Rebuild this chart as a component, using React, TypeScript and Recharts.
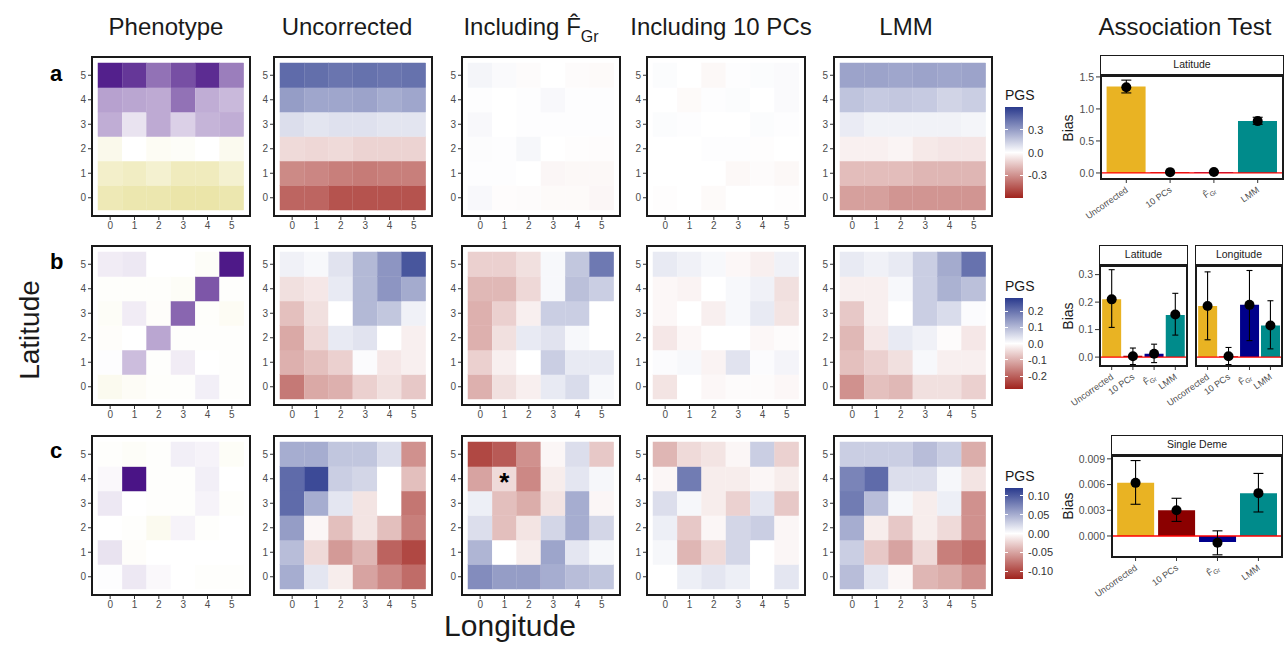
import React from "react";
import {
  BarChart,
  Bar,
  Cell,
  XAxis,
  YAxis,
  ComposedChart,
  Scatter,
  ErrorBar,
  ReferenceLine,
} from "recharts";

const FONT = '"Liberation Sans", Arial, Helvetica, sans-serif';
const GREY = "#4D4D4D";

const lonTicks = ["0", "1", "2", "3", "4", "5"];
const latTicks = [0, 1, 2, 3, 4, 5];

// Heatmap grids: first row is latitude 5, last row latitude 0; columns are longitude 0..5
const phenoA = [
  [0.95, 0.85, 0.6, 0.75, 0.9, 0.55],
  [0.4, 0.38, 0.36, 0.6, 0.35, 0.3],
  [0.35, 0.12, 0.36, 0.2, 0.32, 0.35],
  [-0.15, 0.0, -0.08, -0.05, 0.0, -0.12],
  [-0.4, -0.45, -0.35, -0.5, -0.5, -0.35],
  [-0.55, -0.6, -0.6, -0.65, -0.65, -0.6],
];
const uncorrA = [
  [0.45, 0.44, 0.42, 0.43, 0.42, 0.43],
  [0.3, 0.27, 0.27, 0.28, 0.25, 0.27],
  [0.1, 0.08, 0.09, 0.09, 0.08, 0.08],
  [-0.1, -0.11, -0.1, -0.12, -0.12, -0.12],
  [-0.32, -0.33, -0.35, -0.36, -0.35, -0.35],
  [-0.42, -0.42, -0.47, -0.47, -0.47, -0.47],
];
const fgrA = [
  [0.03, 0.015, -0.01, 0, -0.01, -0.015],
  [0.005, 0, 0.005, 0.02, 0.005, 0.005],
  [0.02, 0, 0.005, 0.005, 0.005, 0.005],
  [0.008, 0.005, 0.025, 0, -0.005, -0.008],
  [0.005, 0.005, 0, -0.025, -0.02, -0.02],
  [0.02, -0.008, -0.01, -0.015, -0.015, -0.025],
];
const pcsA = [
  [0.01, 0, -0.02, 0.005, 0.01, 0.015],
  [0, -0.015, 0.005, 0.01, 0, 0.015],
  [0.01, 0.005, 0, 0, 0.01, 0.005],
  [0, 0, 0.005, 0.005, -0.005, 0],
  [0, 0, 0, -0.02, -0.01, -0.02],
  [-0.005, 0, -0.015, 0, 0, -0.005],
];
const lmmA = [
  [0.28, 0.28, 0.27, 0.28, 0.27, 0.28],
  [0.18, 0.16, 0.17, 0.16, 0.13, 0.15],
  [0.06, 0.04, 0.04, 0.04, 0.04, 0.03],
  [-0.04, -0.04, -0.03, -0.06, -0.07, -0.07],
  [-0.18, -0.18, -0.18, -0.2, -0.2, -0.2],
  [-0.26, -0.26, -0.29, -0.29, -0.29, -0.29],
];

const phenoB = [
  [0.08, 0.1, 0, 0, -0.05, 0.98],
  [-0.03, -0.03, -0.03, -0.06, 0.72, -0.02],
  [-0.06, 0.08, -0.04, 0.65, -0.03, -0.08],
  [-0.04, 0.0, 0.38, -0.02, -0.02, -0.02],
  [0.01, 0.28, -0.02, 0.08, 0, -0.02],
  [-0.12, -0.07, -0.03, -0.02, 0.07, -0.02],
];
const uncorrB = [
  [0.02, 0.01, 0.04, 0.1, 0.15, 0.24],
  [-0.04, -0.03, 0.03, 0.1, 0.15, 0.12],
  [-0.08, -0.04, 0, 0.1, 0.08, 0.02],
  [-0.11, -0.05, 0.03, 0.04, 0, -0.02],
  [-0.1, -0.08, -0.06, 0.005, -0.03, -0.02],
  [-0.17, -0.11, -0.1, -0.06, -0.04, -0.07],
];
const fgrB = [
  [-0.06, -0.06, -0.04, 0.01, 0.08, 0.19],
  [-0.09, -0.09, -0.05, 0.01, 0.09, 0.07],
  [-0.1, -0.06, -0.02, 0.07, 0.07, 0],
  [-0.1, -0.04, 0.03, 0.04, 0.01, 0],
  [-0.06, -0.02, 0, 0.07, 0.03, 0.03],
  [-0.1, -0.04, -0.02, 0.03, 0.05, 0.01],
];
const pcsB = [
  [0.03, 0.02, 0.01, -0.01, -0.02, 0.02],
  [-0.01, -0.015, 0, 0.01, 0.02, -0.04],
  [-0.01, 0, -0.02, 0.01, 0.03, -0.035],
  [-0.03, -0.01, 0, 0, -0.01, -0.005],
  [0.005, 0.01, -0.015, 0.04, 0.005, 0.015],
  [-0.035, 0, -0.01, -0.005, -0.005, -0.01],
];
const lmmB = [
  [0.03, 0.02, 0.03, 0.07, 0.12, 0.2],
  [-0.02, -0.02, 0.01, 0.07, 0.11, 0.09],
  [-0.07, -0.02, 0, 0.07, 0.05, 0.005],
  [-0.09, -0.03, 0.03, 0.02, -0.005, -0.03],
  [-0.08, -0.06, -0.04, 0.01, -0.02, -0.02],
  [-0.14, -0.08, -0.09, -0.04, -0.04, -0.06],
];

const phenoC = [
  [-0.02, -0.05, -0.02, 0.07, 0.05, -0.06],
  [0.03, 1.0, -0.02, -0.02, 0.07, 0],
  [0.1, 0, -0.02, -0.02, 0.05, -0.03],
  [0, -0.02, -0.12, 0.05, -0.02, 0],
  [0.12, -0.04, 0, 0, 0, 0],
  [0.01, 0.1, 0.03, 0, -0.02, -0.02],
];
const uncorrC = [
  [0.05, 0.05, 0.035, 0.035, 0.02, -0.06],
  [0.09, 0.11, 0.03, 0.025, 0, -0.035],
  [0.09, 0.05, 0.015, -0.015, 0, -0.075],
  [0.06, -0.005, -0.035, -0.015, -0.035, -0.07],
  [0.04, -0.02, -0.055, -0.04, -0.085, -0.1],
  [0.05, 0.015, -0.01, -0.05, -0.065, -0.08],
];
const fgrC = [
  [-0.1, -0.09, -0.06, -0.005, 0.02, -0.03],
  [-0.05, -0.02, -0.065, -0.01, 0.015, 0.005],
  [0.01, -0.035, -0.045, -0.015, 0.05, -0.005],
  [0.02, -0.035, -0.015, 0.025, 0.05, 0.025],
  [0.045, 0, -0.01, 0.055, 0.015, 0.005],
  [0.07, 0.06, 0.06, 0.05, 0.04, 0.035],
];
const pcsC = [
  [-0.04, -0.02, -0.015, -0.005, 0.03, -0.025],
  [-0.005, 0.08, -0.01, -0.01, -0.005, -0.01],
  [0.02, 0.005, -0.01, -0.025, 0.015, -0.03],
  [0.01, -0.03, -0.005, 0.025, 0.03, -0.005],
  [0.005, -0.04, -0.02, 0.025, 0, -0.005],
  [0, 0.01, 0.015, 0.01, 0, 0.015],
];
const lmmC = [
  [0.03, 0.03, 0.03, 0.04, 0.03, -0.045],
  [0.075, 0.09, 0.02, 0.02, 0.005, -0.015],
  [0.08, 0.04, 0.005, -0.01, 0.01, -0.06],
  [0.05, -0.01, -0.03, -0.01, -0.02, -0.06],
  [0.03, -0.03, -0.05, -0.02, -0.07, -0.08],
  [0.04, 0.015, -0.005, -0.04, -0.045, -0.06],
];

// PGS colour bar limits and labels per row
const pgsLimits = [0.6, 0.28, 0.12];
const pgsTicksA = [0.3, 0, -0.3];
const pgsTicksB = [0.2, 0.1, 0, -0.1, -0.2];
const pgsTicksC = [0.1, 0.05, 0, -0.05, -0.1];

// association test
const methods = ["Uncorrected", "10 PCs", "FGr", "LMM"];
const methodColors = ["#E9B323", "#8B0000", "#00008B", "#008B8B"];

const latABar = [1.35, 0.012, 0.012, 0.81];
const latAPoint = [1.34, 0.013, 0.016, 0.81];
const latALo = [1.25, 0.0, 0.004, 0.76];
const latAHi = [1.45, 0.026, 0.028, 0.87];

const latBBar = [0.21, 0.005, 0.012, 0.153];
const latBPoint = [0.21, 0.003, 0.012, 0.155];
const latBLo = [0.108, -0.027, -0.02, 0.08];
const latBHi = [0.318, 0.033, 0.047, 0.232];

const lonBBar = [0.186, 0.003, 0.19, 0.115];
const lonBPoint = [0.186, 0.003, 0.19, 0.115];
const lonBLo = [0.063, -0.027, 0.06, 0.03];
const lonBHi = [0.31, 0.035, 0.315, 0.205];

const demeCBar = [0.0062, 0.003, -0.0007, 0.005];
const demeCPoint = [0.0062, 0.003, -0.0008, 0.005];
const demeCLo = [0.0037, 0.0017, -0.0022, 0.0028];
const demeCHi = [0.0088, 0.0044, 0.0006, 0.0073];

const PHENO_LOW = "#E0D77A";
const PHENO_HIGH = "#4A1486";
const PGS_LOW = "#A0231D";
const PGS_HIGH = "#2A3A8D";

function hex(c: string) {
  return [1, 3, 5].map((i) => parseInt(c.slice(i, i + 2), 16));
}

function mix(a: string, b: string, t: number) {
  const A = hex(a);
  const B = hex(b);
  const m = A.map((v, i) => Math.round(v + (B[i] - v) * t));
  return `rgb(${m[0]},${m[1]},${m[2]})`;
}

function diverging(low: string, high: string, limit: number) {
  return (v: number) => {
    const t = Math.max(-1, Math.min(1, v / limit));
    return t >= 0 ? mix("#FFFFFF", high, t) : mix("#FFFFFF", low, -t);
  };
}

const phenoColor = diverging(PHENO_LOW, PHENO_HIGH, 1);

const BOX_W = 160;
const BOX_H = 161;
const Y_W = 22;
const X_H = 22;
const PAD = 7;

interface HeatmapProps {
  grid: number[][];
  color: (v: number) => string;
  left: number;
  top: number;
  star?: [number, number];
}

function Heatmap({ grid, color, left, top, star }: HeatmapProps) {
  const data = lonTicks.map((lon) => {
    const d: Record<string, number | string> = { lon };
    latTicks.forEach((y) => {
      d[`lat${y}`] = 1;
    });
    return d;
  });
  const ext = PAD / ((BOX_H - 2 * PAD) / 6);
  const tick = { fontSize: 10, fill: GREY, fontFamily: FONT };
  return (
    <div style={{ position: "absolute", left: left - Y_W, top: top - 2 }}>
      <BarChart
        width={Y_W + BOX_W + 2}
        height={2 + BOX_H + X_H}
        data={data}
        margin={{ top: 2, right: 2, bottom: 0, left: 0 }}
        barCategoryGap={0}
        barGap={0}
      >
        <XAxis
          dataKey="lon"
          padding={{ left: PAD, right: PAD }}
          height={X_H}
          axisLine={false}
          tickSize={3}
          tickLine={{ stroke: "#333" }}
          tick={tick}
          interval={0}
        />
        <YAxis
          type="number"
          domain={[-ext, 6 + ext]}
          ticks={latTicks.map((v) => v + 0.5)}
          tickFormatter={(v: number) => String(Math.round(v - 0.5))}
          width={Y_W}
          axisLine={false}
          tickSize={3}
          tickLine={{ stroke: "#333" }}
          tick={tick}
          allowDataOverflow
          interval={0}
        />
        {latTicks.map((y) => (
          <Bar
            key={y}
            dataKey={`lat${y}`}
            stackId="cells"
            isAnimationActive={false}
            shape={(p: any) => (
              <g>
                <rect
                  x={p.x}
                  y={p.y}
                  width={p.width}
                  height={p.height}
                  fill={p.fill}
                  stroke={p.fill}
                  strokeWidth={0.5}
                />
                {star && star[1] === y && p.index === star[0] ? (
                  <text
                    x={p.x + p.width / 2}
                    y={p.y + p.height / 2 + 12}
                    textAnchor="middle"
                    fontSize={26}
                    fontWeight="bold"
                    fontFamily={FONT}
                    fill="#000"
                  >
                    *
                  </text>
                ) : null}
              </g>
            )}
          >
            {lonTicks.map((_, x) => (
              <Cell key={x} fill={color(grid[5 - y][x])} />
            ))}
          </Bar>
        ))}
      </BarChart>
      <div
        style={{
          position: "absolute",
          left: Y_W,
          top: 2,
          width: BOX_W,
          height: BOX_H,
          border: "2px solid #1a1a1a",
          boxSizing: "border-box",
          pointerEvents: "none",
        }}
      />
    </div>
  );
}

function MethodTick(props: any) {
  const { x, y, payload } = props;
  const label = payload.value;
  return (
    <g transform={`translate(${x},${y + 3}) rotate(-35)`}>
      <text x={0} y={0} dy={4} textAnchor="end" fontSize={9} fill={GREY} fontFamily={FONT}>
        {label === "FGr" ? (
          <>
            <tspan>{"F\u0302"}</tspan>
            <tspan fontSize={6.5} dy={2}>
              Gr
            </tspan>
          </>
        ) : (
          label
        )}
      </text>
    </g>
  );
}

interface BiasProps {
  left: number;
  top: number;
  plotW: number;
  plotH: number;
  yW: number;
  bar: number[];
  point: number[];
  lo: number[];
  hi: number[];
  domain: [number, number];
  ticks: number[];
  digits: number;
  showY: boolean;
  capW: number;
  pad: number;
  strip: string;
}

// room around the plot so slanted labels and top tick labels are not clipped
const ML = 44;
const MT = 8;

function BiasPanel(p: BiasProps) {
  const data = methods.map((m, i) => ({
    m,
    bar: p.bar[i],
    point: p.point[i],
    err: [p.point[i] - p.lo[i], p.hi[i] - p.point[i]],
  }));
  const yW = p.showY ? p.yW : 0;
  const tick = { fontSize: 10.5, fill: GREY, fontFamily: FONT };
  return (
    <>
      <div
        style={{
          position: "absolute",
          left: p.left,
          top: p.top - 20,
          width: p.plotW,
          height: 20,
          border: "1.5px solid #1a1a1a",
          boxSizing: "border-box",
          fontFamily: FONT,
          fontSize: 10.5,
          color: "#1a1a1a",
          textAlign: "center",
          lineHeight: "17px",
          background: "#fff",
        }}
      >
        {p.strip}
      </div>
      <div style={{ position: "absolute", left: p.left - yW - ML, top: p.top - MT }}>
        <ComposedChart
          width={ML + yW + p.plotW + 6}
          height={MT + p.plotH + 50}
          data={data}
          margin={{ top: MT, right: 6, bottom: 0, left: ML }}
          barCategoryGap="5%"
        >
          <XAxis
            dataKey="m"
            padding={{ left: p.pad, right: p.pad }}
            interval={0}
            tick={<MethodTick />}
            tickSize={3}
            tickLine={{ stroke: "#333" }}
            axisLine={false}
            height={50}
          />
          <YAxis
            type="number"
            domain={p.domain}
            ticks={p.ticks}
            tickFormatter={(v: number) => v.toFixed(p.digits)}
            width={yW}
            hide={!p.showY}
            axisLine={false}
            tickSize={4}
            tickLine={{ stroke: "#333" }}
            tick={tick}
            allowDataOverflow
            interval={0}
          />
          <Bar dataKey="bar" isAnimationActive={false}>
            {methods.map((m, i) => (
              <Cell key={m} fill={methodColors[i]} />
            ))}
          </Bar>
          <ReferenceLine y={0} stroke="#FF0000" strokeWidth={1.3} />
          <Scatter
            dataKey="point"
            isAnimationActive={false}
            shape={(s: any) => <circle cx={s.cx} cy={s.cy} r={5} fill="#000" />}
          >
            <ErrorBar dataKey="err" direction="y" width={p.capW} stroke="#000" strokeWidth={1.1} />
          </Scatter>
        </ComposedChart>
        <div
          style={{
            position: "absolute",
            left: ML + yW,
            top: MT,
            width: p.plotW,
            height: p.plotH,
            border: "2px solid #1a1a1a",
            boxSizing: "border-box",
            pointerEvents: "none",
          }}
        />
      </div>
    </>
  );
}

function BiasLabel({ top }: { top: number }) {
  return (
    <div
      style={{
        position: "absolute",
        left: 1068 - 30,
        top: top - 9,
        width: 60,
        height: 18,
        textAlign: "center",
        fontFamily: FONT,
        fontSize: 14,
        lineHeight: "18px",
        color: "#1a1a1a",
        transform: "rotate(-90deg)",
      }}
    >
      Bias
    </div>
  );
}

function PgsLegend({
  top,
  limit,
  ticks,
  digits,
}: {
  top: number;
  limit: number;
  ticks: number[];
  digits: number;
}) {
  const H = 91;
  const W = 18;
  return (
    <div style={{ position: "absolute", left: 1005, top: top - 20 }}>
      <div style={{ fontSize: 14, fontFamily: FONT, color: "#1a1a1a", height: 20, lineHeight: "16px" }}>
        PGS
      </div>
      <div
        style={{
          position: "relative",
          width: W,
          height: H,
          background: `linear-gradient(to bottom, ${PGS_HIGH}, #FFFFFF 50%, ${PGS_LOW})`,
        }}
      >
        {ticks.map((v, i) => {
          const y = ((limit - v) / (2 * limit)) * H;
          return (
            <React.Fragment key={i}>
              <div style={{ position: "absolute", left: 0, top: y - 0.5, width: 3, height: 1, background: "#fff" }} />
              <div style={{ position: "absolute", left: W - 3, top: y - 0.5, width: 3, height: 1, background: "#fff" }} />
              <div
                style={{
                  position: "absolute",
                  left: W + 5,
                  top: y - 7,
                  fontSize: 11,
                  lineHeight: "14px",
                  color: "#333",
                  fontFamily: FONT,
                  whiteSpace: "nowrap",
                }}
              >
                {v.toFixed(digits)}
              </div>
            </React.Fragment>
          );
        })}
      </div>
    </div>
  );
}

const colLefts = [91, 273, 461, 646, 833];
const rowTops = [56, 245, 435];

const titleStyle: React.CSSProperties = {
  position: "absolute",
  top: 15,
  width: 240,
  textAlign: "center",
  fontFamily: FONT,
  fontSize: 24,
  lineHeight: "24px",
  color: "#1a1a1a",
  whiteSpace: "nowrap",
};

export default function App() {
  const rows = [
    { grids: [phenoA, uncorrA, fgrA, pcsA, lmmA], limit: pgsLimits[0] },
    { grids: [phenoB, uncorrB, fgrB, pcsB, lmmB], limit: pgsLimits[1] },
    { grids: [phenoC, uncorrC, fgrC, pcsC, lmmC], limit: pgsLimits[2] },
  ];
  return (
    <div
      style={{
        position: "absolute",
        left: 0,
        top: 0,
        width: 1288,
        height: 662,
        background: "#fff",
        overflow: "hidden",
      }}
    >
      <div style={{ ...titleStyle, left: 166 - 120 }}>Phenotype</div>
      <div style={{ ...titleStyle, left: 347 - 120 }}>Uncorrected</div>
      <div style={{ ...titleStyle, left: 531 - 120 }}>
        Including {"F\u0302"}
        <span style={{ fontSize: 16, position: "relative", top: 7 }}>Gr</span>
      </div>
      <div style={{ ...titleStyle, left: 721 - 120 }}>Including 10 PCs</div>
      <div style={{ ...titleStyle, left: 906 - 120 }}>LMM</div>
      <div style={{ ...titleStyle, left: 1185 - 120 }}>Association Test</div>

      <div
        style={{
          position: "absolute",
          left: 30 - 80,
          top: 330 - 16,
          width: 160,
          height: 32,
          textAlign: "center",
          fontFamily: FONT,
          fontSize: 28,
          lineHeight: "32px",
          color: "#1a1a1a",
          transform: "rotate(-90deg)",
        }}
      >
        Latitude
      </div>
      <div
        style={{
          position: "absolute",
          left: 510 - 100,
          top: 626 - 15,
          width: 200,
          height: 30,
          textAlign: "center",
          fontFamily: FONT,
          fontSize: 30,
          lineHeight: "30px",
          color: "#1a1a1a",
        }}
      >
        Longitude
      </div>

      {["a", "b", "c"].map((l, i) => (
        <div
          key={l}
          style={{
            position: "absolute",
            left: 50,
            top: [75, 263, 452][i] - 14,
            fontFamily: FONT,
            fontWeight: "bold",
            fontSize: 22,
            lineHeight: "26px",
            color: "#000",
          }}
        >
          {l}
        </div>
      ))}

      {rows.map((r, ri) =>
        r.grids.map((g, ci) => (
          <Heatmap
            key={`${ri}-${ci}`}
            grid={g}
            color={ci === 0 ? phenoColor : diverging(PGS_LOW, PGS_HIGH, r.limit)}
            left={colLefts[ci]}
            top={rowTops[ri]}
            star={ri === 2 && ci === 2 ? [1, 4] : undefined}
          />
        ))
      )}

      <PgsLegend top={107} limit={pgsLimits[0]} ticks={pgsTicksA} digits={1} />
      <PgsLegend top={298} limit={pgsLimits[1]} ticks={pgsTicksB} digits={1} />
      <PgsLegend top={488} limit={pgsLimits[2]} ticks={pgsTicksC} digits={2} />

      <BiasLabel top={128} />
      <BiasPanel
        left={1100}
        top={75}
        plotW={184}
        plotH={105}
        yW={25}
        bar={latABar}
        point={latAPoint}
        lo={latALo}
        hi={latAHi}
        domain={[-0.11, 1.53]}
        ticks={[0, 0.5, 1, 1.5]}
        digits={1}
        showY
        capW={5}
        pad={4.4}
        strip="Latitude"
      />

      <BiasLabel top={316} />
      <BiasPanel
        left={1099}
        top={265}
        plotW={89}
        plotH={102}
        yW={24}
        bar={latBBar}
        point={latBPoint}
        lo={latBLo}
        hi={latBHi}
        domain={[-0.036, 0.335]}
        ticks={[0, 0.1, 0.2, 0.3]}
        digits={1}
        showY
        capW={3}
        pad={2.1}
        strip="Latitude"
      />
      <BiasPanel
        left={1195}
        top={265}
        plotW={88}
        plotH={102}
        yW={24}
        bar={lonBBar}
        point={lonBPoint}
        lo={lonBLo}
        hi={lonBHi}
        domain={[-0.036, 0.335]}
        ticks={[0, 0.1, 0.2, 0.3]}
        digits={1}
        showY={false}
        capW={3}
        pad={2.1}
        strip="Longitude"
      />

      <BiasLabel top={506} />
      <BiasPanel
        left={1111}
        top={455}
        plotW={172}
        plotH={103}
        yW={36}
        bar={demeCBar}
        point={demeCPoint}
        lo={demeCLo}
        hi={demeCHi}
        domain={[-0.00257, 0.00945]}
        ticks={[0, 0.003, 0.006, 0.009]}
        digits={3}
        showY
        capW={5}
        pad={4.1}
        strip="Single Deme"
      />
    </div>
  );
}
